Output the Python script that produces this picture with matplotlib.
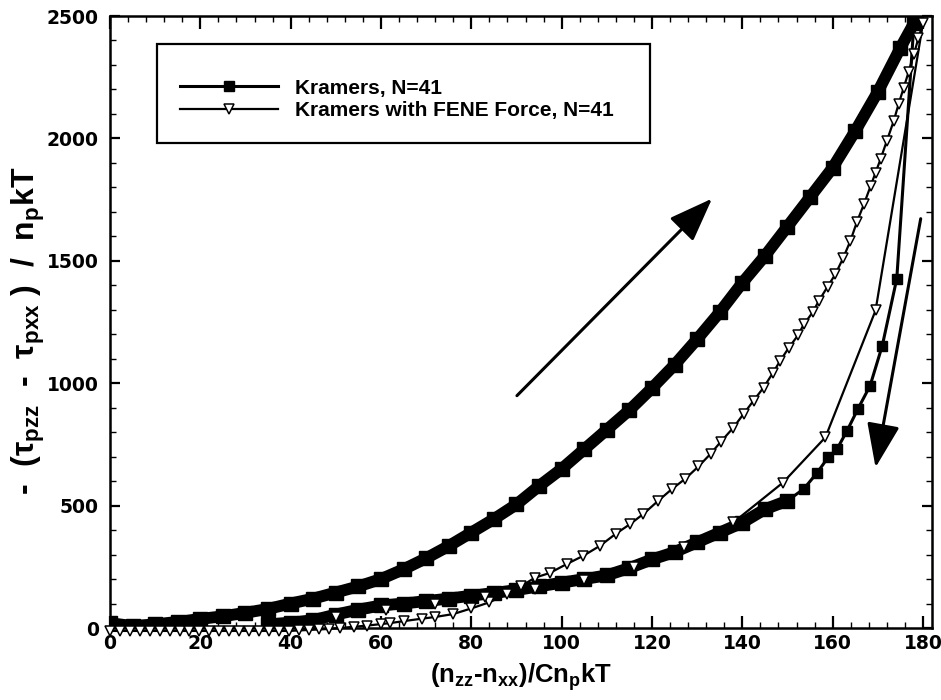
import matplotlib
matplotlib.use("Agg")
import matplotlib.pyplot as plt
from matplotlib.patches import Rectangle
from matplotlib.ticker import MultipleLocator

plt.rcParams['font.family'] = ['Liberation Sans', 'DejaVu Sans']
plt.rcParams['font.weight'] = 'bold'
plt.rcParams['mathtext.fontset'] = 'custom'
plt.rcParams['mathtext.rm'] = 'Liberation Sans:bold'
plt.rcParams['mathtext.it'] = 'Liberation Sans:bold'
plt.rcParams['mathtext.bf'] = 'Liberation Sans:bold'

# ---- Kramers, N=41 : ascending branch (dense)
kram_up_x = [0, 5, 10, 15, 20, 25, 30, 35, 40, 45, 50, 55, 60, 65, 70, 75, 80, 85, 90,
             95, 100, 105, 110, 115, 120, 125, 130, 135, 140, 145, 150, 155, 160, 165,
             170, 175, 178]
kram_up_y = [20, 8, 15, 25, 37, 48, 62, 78, 100, 120, 145, 170, 200, 240, 285, 335, 390,
             445, 505, 580, 650, 730, 810, 890, 980, 1075, 1180, 1290, 1410, 1520, 1640,
             1760, 1880, 2030, 2190, 2370, 2470]
# ---- Kramers : steep descending part (sparse points)
kram_dn_x = [174.2, 171.0, 168.3, 165.6, 163.2, 161.0, 159.0, 156.6, 153.6]
kram_dn_y = [1427, 1154, 990, 895, 806, 732, 697, 635, 568]
# ---- Kramers : lower return branch (dense)
kram_lo_x = [150, 145, 140, 135, 130, 125, 120, 115, 110, 105, 100, 95, 90, 85, 80, 75,
             70, 65, 60, 55, 50, 45, 40, 35]
kram_lo_y = [520, 485, 430, 390, 350, 310, 280, 245, 215, 200, 185, 170, 155, 143, 132,
             120, 110, 100, 92, 75, 55, 32, 22, 15]

# ---- Kramers with FENE force, N=41 : ascending branch
fene_up_x = [0, 2.2, 4.4, 6.6, 8.8, 11, 13.2, 15.4, 17.6, 19.8, 22, 24.2, 26.4, 28.6,
             30.8, 33, 35.2, 37.4, 39.6, 41.8, 44, 46.2, 48.4, 51, 54, 57, 60, 62, 65,
             69, 72, 76, 80, 84, 88, 91, 94, 97.4, 101.2, 104.8, 108.5, 112, 115.2,
             118.1, 121.4, 124.5, 127.4, 130.3, 133, 135.2, 138, 140.3, 142.5, 144.7,
             146.7, 148.4, 150.3, 152.3, 153.6, 155.6, 156.9, 158.9, 160.6, 162.3,
             163.9, 165.4, 166.9, 168.4, 169.5, 170.6, 172, 173.5, 174.6, 175.7,
             176.8, 178, 179, 180]
fene_up_y = [-12, -12, -12, -12, -12, -12, -12, -12, -12, -12, -12, -12, -12, -12,
             -12, -12, -12, -12, -12, -10, -8, -6, -4, 0, 5, 10, 16, 20, 28,
             38, 45, 57, 80, 105, 140, 170, 205, 225, 262, 295, 336, 385, 425,
             466, 520, 569, 610, 660, 712, 760, 818, 875, 929, 982,
             1040, 1092, 1145, 1195, 1240, 1290, 1335, 1395, 1445, 1510,
             1580, 1660, 1730, 1805, 1860, 1915, 1990, 2070, 2140, 2205,
             2270, 2345, 2410, 2470]
# ---- FENE : descending branch
fene_dn_x = [169.5, 158.4, 149.0, 138.0, 127.0, 116.0, 105.0, 94.0, 83.0, 72.0, 61.0, 50.0]
fene_dn_y = [1297, 779, 594, 431, 330, 250, 195, 160, 128, 100, 75, 45]

# ---- direction arrows (tail -> head), data coords
arrow_up = ((90.1, 949), (133.3, 1754))
arrow_dn = ((179.5, 1672), (169.5, 656))

labels = ['Kramers, N=41', 'Kramers with FENE Force, N=41']
xlabel = r'(n$_{zz}$-n$_{xx}$)/Cn$_{p}$kT'
ylabel = r'-  (τ$_{pzz}$  -  τ$_{pxx}$ )  /  n$_{p}$kT'

fig = plt.figure(figsize=(9.41, 7.0), dpi=100)
ax = fig.add_axes([110 / 941, 1 - 628 / 700, 822 / 941, 612 / 700])

# Kramers loop
kx = kram_up_x + kram_dn_x + kram_lo_x
ky = kram_up_y + kram_dn_y + kram_lo_y
lk, = ax.plot(kx, ky, color='k', lw=2.2, marker='s', ms=6.5, mfc='k', mec='k',
              label=labels[0], zorder=4)
ax.plot(kram_up_x, kram_up_y, color='k', lw=8.5, marker='s', ms=10,
        solid_capstyle='butt', zorder=3)
ax.plot(kram_lo_x, kram_lo_y, color='k', lw=8.5, marker='s', ms=10,
        solid_capstyle='butt', zorder=3)

# FENE loop
fx = fene_up_x + fene_dn_x
fy = fene_up_y + fene_dn_y
lf, = ax.plot(fx, fy, color='k', lw=1.6, marker='v', ms=7, mfc='white', mec='k',
              mew=1.1, label=labels[1], zorder=5, clip_on=False)

for (t, h) in (arrow_up, arrow_dn):
    ax.annotate('', xy=h, xytext=t,
                arrowprops=dict(arrowstyle='-|>,head_length=0.4,head_width=0.15',
                                mutation_scale=68, lw=2.2, color='k',
                                shrinkA=0, shrinkB=0))

ax.set_xlim(0, 182)
ax.set_ylim(0, 2500)
ax.xaxis.set_major_locator(MultipleLocator(20))
ax.xaxis.set_minor_locator(MultipleLocator(4))
ax.yaxis.set_major_locator(MultipleLocator(500))
ax.yaxis.set_minor_locator(MultipleLocator(100))
ax.tick_params(which='both', direction='in', top=True, right=True)
ax.tick_params(which='major', width=1.6, labelsize=13.5, pad=4)
ax.tick_params(axis='x', which='major', length=9)
ax.tick_params(axis='y', which='major', length=7, pad=8)
ax.tick_params(which='minor', length=4.5, width=1.0)
for lab in ax.get_xticklabels() + ax.get_yticklabels():
    lab.set_fontweight('bold')
    lab.set_family('DejaVu Sans')
for s in ax.spines.values():
    s.set_linewidth(1.8)

ax.set_xlabel(xlabel, fontsize=18.5, fontweight='bold', labelpad=6)
ax.set_ylabel(ylabel, fontsize=23, fontweight='bold')
ax.yaxis.set_label_coords(-0.077, 0.485)

# legend box
ax.add_patch(Rectangle((0.0572, 0.7925), 0.6, 0.1615, transform=ax.transAxes,
                       fill=True, facecolor='white', edgecolor='k', lw=1.6, zorder=6))
leg = ax.legend(handles=[lk, lf], loc='center left', bbox_to_anchor=(0.0852, 0.864),
                frameon=False, handlelength=4.7, handletextpad=0.8,
                borderpad=0, borderaxespad=0, labelspacing=0.15, numpoints=1,
                prop={'weight': 'bold', 'size': 15, 'family': 'Liberation Sans'})
leg.set_zorder(7)

fig.savefig('out.png', dpi=100)
